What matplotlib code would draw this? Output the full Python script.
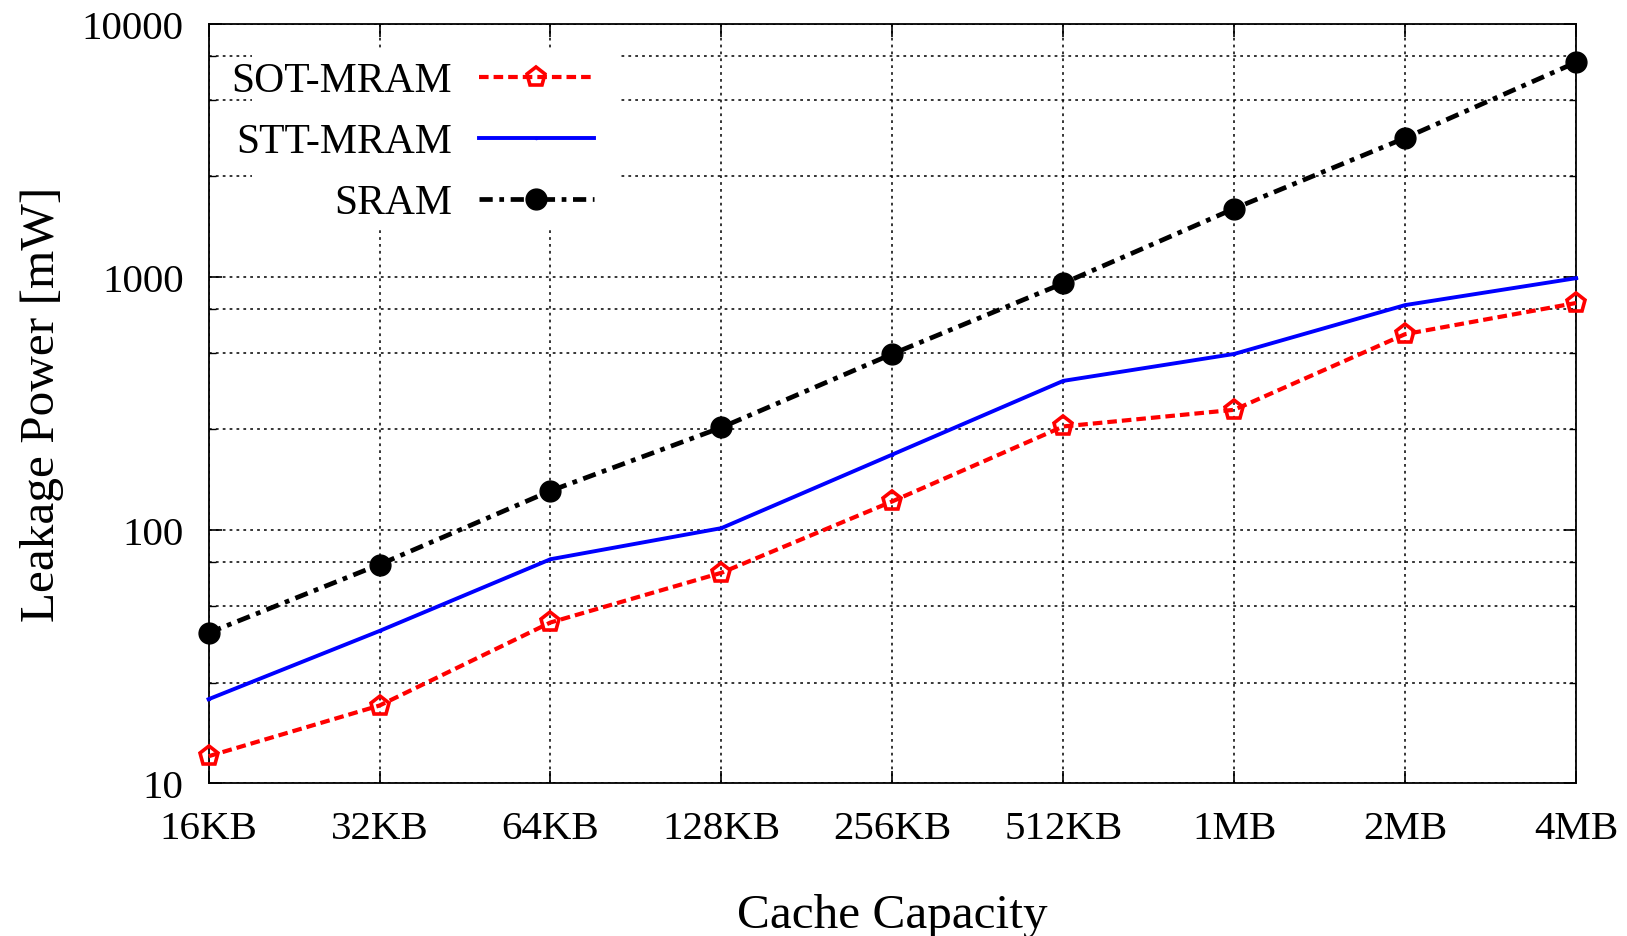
import matplotlib
matplotlib.use("Agg")
import matplotlib.pyplot as plt
from matplotlib.patches import Rectangle
from matplotlib.ticker import FixedLocator, NullFormatter

plt.rcParams['font.family'] = ['Liberation Serif', 'DejaVu Serif']

capacities = ['16KB', '32KB', '64KB', '128KB', '256KB', '512KB', '1MB', '2MB', '4MB']
sot_mram = [12.8, 20.3, 43.2, 67.9, 130, 257, 299, 595, 790]
stt_mram = [21.5, 40, 76.8, 101.9, 199, 389, 497, 775, 990]
sram = [39.3, 73.2, 143, 254.6, 497, 945, 1864, 3543, 7050]

x = list(range(len(capacities)))

fig = plt.figure(figsize=(16.27, 9.37), dpi=100)
ax = fig.add_axes([0.1282, 0.1629, 0.8405, 0.8105])

ax.plot(x, sot_mram, color='red', lw=3.0, linestyle=(0, (2.3, 1.2)),
        marker='p', markersize=14, markerfacecolor='none', markeredgewidth=2.6,
        markeredgecolor='red', label='SOT-MRAM', zorder=3, clip_on=False)
ax.plot(x, stt_mram, color='blue', lw=2.8, linestyle='-',
        marker='.', markersize=3, label='STT-MRAM', zorder=3, clip_on=False)
ax.plot(x, sram, color='black', lw=3.4, linestyle=(0, (2.8, 1.4, 1.0, 1.4)),
        marker='o', markersize=15, label='SRAM', zorder=3, clip_on=False)

ax.set_yscale('log')
ax.set_ylim(10, 10000)
ax.set_xlim(0, len(capacities) - 1)
ax.set_xticks(x)
ax.set_xticklabels(capacities)
ax.set_yticks([10, 100, 1000, 10000])
ax.set_yticklabels(['10', '100', '1000', '10000'])
minor = [m * 10 ** d for d in range(1, 4) for m in (2.5, 5, 7.5)]
ax.yaxis.set_minor_locator(FixedLocator(minor))
ax.yaxis.set_minor_formatter(NullFormatter())

ax.tick_params(axis='both', which='major', direction='in', length=9, width=1.2,
               labelsize=29.5, top=True, right=True)
ax.tick_params(axis='x', which='major', pad=19.5)
ax.tick_params(axis='y', which='major', pad=18)
ax.tick_params(axis='y', which='minor', direction='in', length=5, width=1.0,
               right=True)

ax.set_axisbelow(True)
ax.grid(True, which='both', color='black', lw=1.1, linestyle=(0, (1.8, 2.7)))
for s in ax.spines.values():
    s.set_linewidth(1.3)

ax.set_xlabel('Cache Capacity', fontsize=35.5)
ax.xaxis.set_label_coords(0.5, -0.144)
ax.set_ylabel('Leakage Power [mW]', fontsize=35.5)
ax.yaxis.set_label_coords(-0.106, 0.5)

# white key area like gnuplot
ax.add_patch(Rectangle((0.0317, 0.7326), 0.2677, 0.2357, transform=ax.transAxes,
                       facecolor='white', edgecolor='none', zorder=1))

# markerfirst=False right-aligns the rows: text first, sample after
ax.legend(loc='upper right', bbox_to_anchor=(0.2816, 0.950),
          frameon=False, markerfirst=False, fontsize=30, borderpad=0,
          handlelength=2.75, handletextpad=0.65, labelspacing=0.54,
          borderaxespad=0)

fig.savefig('out.png', dpi=100)
